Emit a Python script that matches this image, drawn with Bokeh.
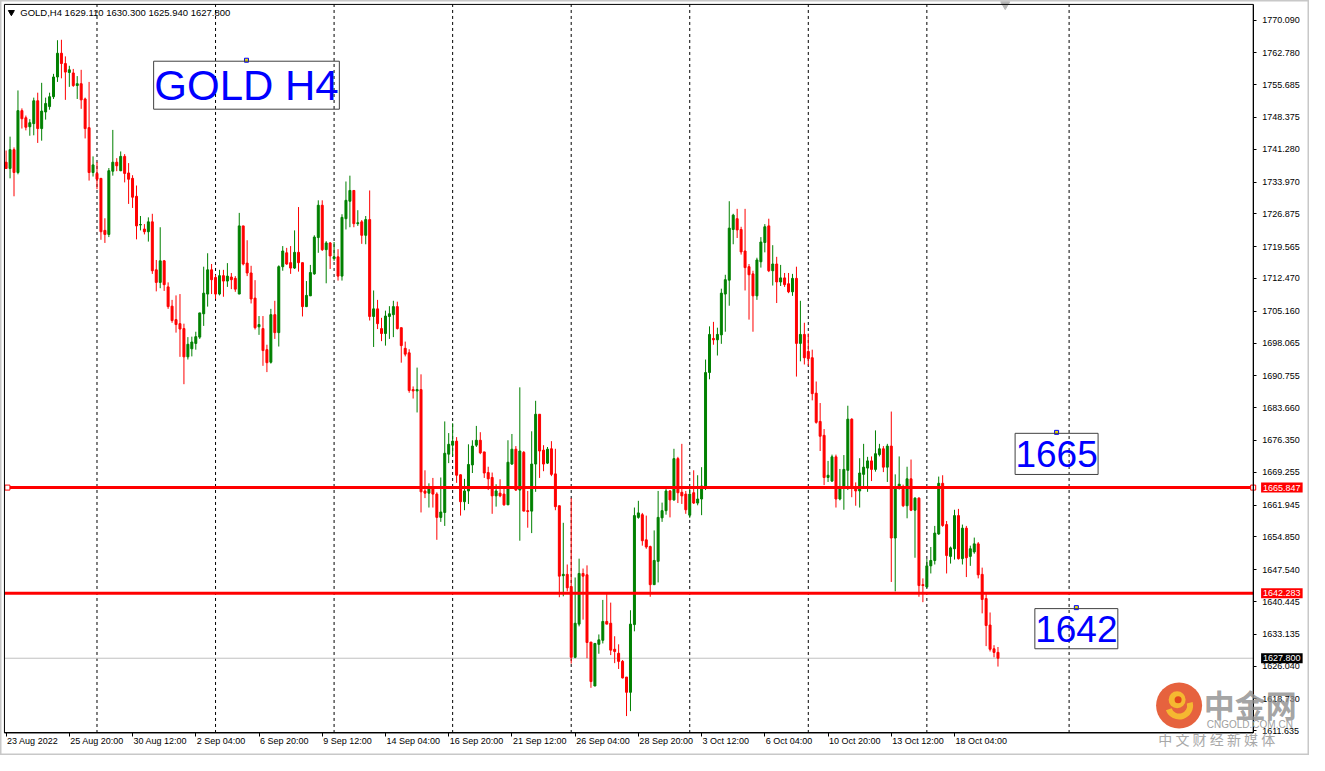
import numpy as np
from bokeh.plotting import figure
from bokeh.models import Range1d, FixedTicker, PrintfTickFormatter, Label, BoxAnnotation
from bokeh.embed import file_html
from bokeh.resources import INLINE

# ---------------- data (GOLD H4 candles) ----------------
open_ = [
    1738.4, 1737.0, 1741.2, 1736.1, 1749.9, 1748.3, 1746.3, 1747.0, 1752.1, 1745.9,
    1749.6, 1750.8, 1753.0, 1757.4, 1762.7, 1760.4, 1758.4, 1758.3, 1755.5, 1755.9,
    1752.5, 1746.1, 1736.1, 1735.9, 1734.8, 1723.2, 1722.3, 1736.4, 1738.4, 1736.5,
    1739.7, 1736.0, 1734.8, 1730.8, 1724.4, 1723.5, 1722.9, 1725.1, 1714.4, 1711.6,
    1716.4, 1710.6, 1706.3, 1703.3, 1702.4, 1701.3, 1695.0, 1696.8, 1698.0, 1699.4,
    1704.6, 1709.0, 1714.4, 1712.7, 1709.0, 1713.1, 1711.9, 1712.8, 1712.5, 1709.0,
    1724.2, 1715.9, 1713.7, 1708.1, 1701.7, 1701.3, 1696.6, 1693.8, 1704.4, 1700.4,
    1715.1, 1718.2, 1716.0, 1714.8, 1718.3, 1716.0, 1706.2, 1708.6, 1713.5, 1721.6,
    1728.8, 1718.9, 1720.4, 1716.9, 1717.3, 1713.0, 1725.8, 1729.7, 1732.1, 1724.7,
    1725.1, 1722.1, 1725.6, 1704.0, 1705.7, 1701.3, 1700.2, 1704.0, 1704.4, 1706.2,
    1701.5, 1696.9, 1695.9, 1687.7, 1687.4, 1687.7, 1665.1, 1664.6, 1665.8, 1664.4,
    1659.2, 1660.3, 1673.3, 1675.3, 1676.2, 1668.7, 1662.7, 1665.1, 1670.9, 1675.3,
    1676.4, 1673.8, 1669.2, 1668.1, 1664.0, 1664.6, 1664.4, 1662.0, 1671.1, 1674.4,
    1665.3, 1673.7, 1660.7, 1660.6, 1671.1, 1682.2, 1674.2, 1671.3, 1674.5, 1668.9,
    1661.8, 1646.2, 1646.5, 1643.8, 1628.0, 1635.4, 1646.7, 1646.4, 1631.4, 1621.6,
    1630.9, 1631.8, 1636.0, 1635.6, 1629.8, 1628.9, 1627.1, 1623.6, 1620.2, 1635.3,
    1659.2, 1659.8, 1654.2, 1652.7, 1644.2, 1649.4, 1659.1, 1660.7, 1665.1, 1663.1,
    1672.3, 1664.8, 1664.4, 1659.7, 1664.7, 1662.4, 1663.3, 1665.7, 1691.5, 1699.1,
    1698.8, 1699.9, 1709.0, 1712.1, 1723.4, 1725.8, 1723.4, 1718.6, 1715.1, 1713.5,
    1708.6, 1716.2, 1720.5, 1724.2, 1714.2, 1715.7, 1711.7, 1712.6, 1711.3, 1709.5,
    1712.5, 1698.0, 1700.0, 1696.2, 1694.8, 1686.9, 1680.6, 1677.5, 1668.1, 1667.3,
    1672.7, 1663.3, 1665.9, 1669.7, 1681.1, 1666.0, 1665.1, 1668.8, 1670.2, 1671.8,
    1669.9, 1673.2, 1674.5, 1670.4, 1675.1, 1654.6, 1665.8, 1665.5, 1661.8, 1667.8,
    1660.8, 1663.5, 1644.2, 1643.7, 1648.4, 1649.6, 1655.5, 1666.8, 1657.6, 1650.5,
    1652.2, 1659.6, 1650.0, 1656.8, 1650.5, 1651.5, 1653.3, 1646.5, 1641.1, 1635.2,
    1629.9, 1629.11,
]
high = [
    1741.0, 1744.1, 1741.7, 1754.4, 1750.4, 1748.8, 1748.0, 1752.8, 1753.9, 1756.1,
    1752.8, 1753.9, 1758.1, 1765.6, 1765.7, 1762.0, 1759.9, 1759.2, 1757.6, 1759.0,
    1752.8, 1756.3, 1739.7, 1738.4, 1734.8, 1725.9, 1737.1, 1745.6, 1739.3, 1740.8,
    1740.2, 1738.2, 1735.5, 1733.2, 1726.4, 1724.6, 1726.1, 1726.9, 1716.6, 1723.9,
    1716.6, 1711.6, 1707.7, 1708.7, 1709.0, 1702.4, 1699.4, 1699.5, 1700.6, 1704.8,
    1715.1, 1718.1, 1715.7, 1713.3, 1714.4, 1714.4, 1715.9, 1713.7, 1713.0, 1727.1,
    1724.2, 1721.0, 1715.3, 1712.1, 1704.1, 1704.1, 1697.7, 1705.7, 1707.5, 1715.4,
    1719.7, 1719.3, 1719.7, 1723.2, 1728.4, 1716.0, 1711.9, 1715.5, 1722.1, 1729.9,
    1729.9, 1720.8, 1720.6, 1720.6, 1719.0, 1726.8, 1734.1, 1735.4, 1732.1, 1727.7,
    1725.5, 1726.4, 1732.1, 1709.8, 1707.7, 1703.7, 1705.3, 1706.3, 1707.5, 1707.3,
    1701.5, 1698.4, 1696.7, 1688.4, 1692.6, 1691.1, 1669.7, 1666.8, 1668.0, 1664.8,
    1668.1, 1680.6, 1678.0, 1680.2, 1677.1, 1668.8, 1667.8, 1675.5, 1676.4, 1679.6,
    1678.2, 1673.8, 1670.5, 1669.2, 1666.6, 1667.7, 1665.7, 1676.4, 1677.8, 1675.1,
    1688.2, 1674.0, 1665.1, 1678.4, 1685.2, 1682.2, 1675.3, 1674.9, 1676.2, 1674.5,
    1661.8, 1658.0, 1648.7, 1663.5, 1645.8, 1650.0, 1647.8, 1648.5, 1631.4, 1631.2,
    1633.1, 1640.8, 1642.1, 1640.2, 1632.7, 1630.9, 1627.4, 1623.6, 1638.5, 1661.4,
    1662.9, 1660.2, 1659.6, 1652.9, 1656.3, 1665.1, 1662.5, 1665.7, 1665.3, 1674.5,
    1672.7, 1675.6, 1665.1, 1666.0, 1669.7, 1668.6, 1670.4, 1694.4, 1701.8, 1702.8,
    1701.5, 1710.2, 1713.3, 1729.7, 1726.9, 1728.0, 1724.0, 1728.0, 1715.7, 1714.2,
    1717.1, 1721.7, 1724.6, 1725.8, 1719.9, 1717.3, 1715.5, 1713.7, 1713.7, 1713.5,
    1715.1, 1707.5, 1702.6, 1700.2, 1696.6, 1689.5, 1684.7, 1678.9, 1671.8, 1673.2,
    1673.2, 1670.0, 1673.1, 1684.1, 1681.3, 1667.0, 1672.4, 1675.6, 1672.7, 1672.8,
    1678.6, 1675.6, 1675.1, 1675.6, 1682.8, 1668.8, 1672.8, 1666.5, 1670.5, 1672.1,
    1663.7, 1663.7, 1645.6, 1649.9, 1652.6, 1657.3, 1668.3, 1668.6, 1658.4, 1652.7,
    1660.9, 1661.1, 1657.6, 1657.3, 1652.9, 1654.7, 1653.7, 1648.0, 1642.1, 1638.0,
    1630.7, 1630.30,
]
low = [
    1736.9, 1734.8, 1730.8, 1735.7, 1745.9, 1745.5, 1744.3, 1744.4, 1742.7, 1743.2,
    1747.9, 1750.1, 1752.5, 1756.3, 1757.1, 1752.3, 1755.2, 1755.2, 1752.5, 1750.3,
    1743.7, 1734.3, 1735.2, 1732.4, 1721.1, 1720.4, 1721.7, 1735.4, 1736.4, 1736.4,
    1733.9, 1729.1, 1728.2, 1721.2, 1723.2, 1722.3, 1720.7, 1713.5, 1709.6, 1710.3,
    1709.7, 1705.7, 1702.6, 1700.4, 1695.0, 1688.9, 1694.4, 1695.1, 1696.6, 1699.0,
    1701.9, 1706.2, 1709.0, 1707.9, 1708.7, 1708.4, 1710.6, 1710.1, 1709.5, 1709.0,
    1715.4, 1713.0, 1706.9, 1701.1, 1699.9, 1693.0, 1691.6, 1693.5, 1699.0, 1697.3,
    1714.2, 1715.5, 1713.5, 1714.6, 1714.0, 1704.0, 1706.1, 1708.6, 1713.3, 1718.2,
    1718.6, 1711.4, 1714.6, 1716.4, 1712.0, 1712.0, 1723.4, 1723.9, 1723.9, 1724.2,
    1720.2, 1720.1, 1703.1, 1697.2, 1701.2, 1698.5, 1697.5, 1699.0, 1699.4, 1701.1,
    1693.7, 1695.1, 1687.0, 1685.7, 1682.6, 1660.3, 1663.5, 1661.4, 1661.4, 1654.2,
    1658.2, 1657.3, 1671.3, 1672.9, 1666.9, 1659.6, 1660.8, 1662.2, 1669.1, 1674.9,
    1673.3, 1668.0, 1665.3, 1660.0, 1661.6, 1663.7, 1661.8, 1662.0, 1670.9, 1665.1,
    1654.0, 1660.6, 1656.9, 1655.7, 1664.9, 1668.0, 1669.5, 1671.1, 1668.4, 1660.8,
    1641.4, 1641.6, 1642.7, 1626.6, 1627.8, 1634.9, 1636.4, 1627.8, 1621.2, 1621.6,
    1628.8, 1631.1, 1635.4, 1628.5, 1626.7, 1625.4, 1623.3, 1614.9, 1616.0, 1633.8,
    1658.9, 1652.9, 1652.2, 1641.5, 1644.2, 1644.7, 1658.2, 1659.8, 1659.2, 1662.9,
    1662.4, 1662.2, 1660.0, 1659.1, 1662.2, 1661.9, 1659.7, 1665.3, 1690.0, 1697.7,
    1695.3, 1697.9, 1700.6, 1706.4, 1720.1, 1721.5, 1717.8, 1709.8, 1703.3, 1700.6,
    1707.7, 1714.9, 1718.3, 1713.9, 1710.9, 1707.0, 1710.8, 1710.6, 1709.2, 1708.6,
    1690.6, 1694.0, 1693.3, 1693.0, 1685.3, 1680.1, 1674.0, 1666.4, 1667.1, 1667.1,
    1661.4, 1663.0, 1660.9, 1665.3, 1663.7, 1661.8, 1661.4, 1665.9, 1664.9, 1667.3,
    1669.4, 1672.8, 1669.3, 1667.1, 1644.8, 1642.7, 1665.4, 1661.5, 1659.0, 1660.6,
    1650.2, 1641.5, 1640.3, 1643.5, 1646.7, 1648.7, 1655.3, 1657.1, 1646.7, 1648.9,
    1649.8, 1649.8, 1648.7, 1645.9, 1648.4, 1651.1, 1645.6, 1637.8, 1630.5, 1629.3,
    1628.0, 1625.94,
]
close = [
    1737.0, 1741.2, 1736.1, 1749.9, 1748.1, 1746.2, 1747.2, 1752.1, 1745.9, 1749.8,
    1751.5, 1753.0, 1757.4, 1762.7, 1760.4, 1758.5, 1759.0, 1755.5, 1755.9, 1752.3,
    1745.9, 1736.1, 1737.8, 1734.6, 1722.9, 1722.3, 1736.5, 1738.4, 1737.6, 1739.7,
    1735.9, 1734.6, 1730.6, 1724.2, 1724.5, 1722.9, 1725.1, 1714.2, 1711.6, 1716.4,
    1711.1, 1706.2, 1703.1, 1702.2, 1701.2, 1695.0, 1697.8, 1698.3, 1699.5, 1704.8,
    1709.2, 1714.4, 1712.2, 1709.0, 1713.1, 1711.9, 1713.0, 1712.2, 1710.1, 1724.2,
    1715.7, 1713.7, 1707.9, 1701.5, 1702.2, 1696.4, 1693.7, 1704.4, 1700.4, 1715.1,
    1718.6, 1715.7, 1714.8, 1718.3, 1716.0, 1706.2, 1708.7, 1713.8, 1721.7, 1728.8,
    1718.9, 1720.4, 1717.5, 1717.3, 1713.0, 1726.1, 1729.9, 1732.1, 1724.7, 1724.9,
    1722.1, 1725.6, 1704.0, 1705.7, 1702.4, 1700.2, 1704.1, 1704.6, 1706.2, 1701.3,
    1697.5, 1695.6, 1687.5, 1687.4, 1687.7, 1664.9, 1664.6, 1665.8, 1664.4, 1659.2,
    1660.4, 1673.5, 1675.5, 1676.2, 1668.6, 1662.7, 1665.1, 1671.0, 1675.1, 1676.4,
    1673.6, 1669.1, 1667.8, 1664.0, 1665.1, 1664.0, 1662.0, 1671.5, 1674.4, 1665.3,
    1674.0, 1660.6, 1660.5, 1671.1, 1682.2, 1674.0, 1671.1, 1674.4, 1668.8, 1661.6,
    1646.1, 1646.5, 1643.5, 1628.0, 1635.6, 1646.7, 1646.1, 1631.3, 1622.6, 1631.1,
    1631.9, 1636.0, 1635.4, 1629.6, 1629.3, 1627.1, 1623.4, 1620.2, 1635.4, 1659.6,
    1660.2, 1654.0, 1652.6, 1644.2, 1649.6, 1659.2, 1660.7, 1665.1, 1663.1, 1672.3,
    1664.7, 1664.0, 1660.9, 1664.4, 1662.4, 1663.3, 1666.2, 1691.5, 1700.0, 1698.8,
    1700.0, 1709.2, 1712.2, 1723.7, 1726.6, 1723.3, 1718.4, 1714.9, 1713.3, 1708.6,
    1716.6, 1720.6, 1724.0, 1714.2, 1715.7, 1711.7, 1712.6, 1711.1, 1709.5, 1712.5,
    1698.0, 1700.0, 1694.8, 1694.6, 1686.8, 1680.4, 1677.3, 1668.1, 1668.6, 1672.7,
    1663.3, 1666.0, 1669.9, 1681.1, 1665.9, 1665.1, 1669.1, 1670.4, 1671.8, 1669.9,
    1673.4, 1674.5, 1670.4, 1675.1, 1654.6, 1665.8, 1666.6, 1661.8, 1667.8, 1660.8,
    1663.5, 1644.0, 1644.0, 1648.4, 1649.6, 1655.7, 1666.8, 1657.4, 1650.7, 1652.4,
    1659.6, 1650.0, 1656.8, 1650.2, 1652.2, 1653.3, 1646.4, 1640.9, 1635.1, 1629.8,
    1629.1, 1627.80,
]
assert len(open_) == len(high) == len(low) == len(close) == 252

symbol = "GOLD,H4"
x_tick_bars = [0, 16, 32, 48, 64, 80, 96, 112, 128, 144, 160, 176, 192, 208, 224, 240]
x_tick_labels = ["23 Aug 2022", "25 Aug 20:00", "30 Aug 12:00", "2 Sep 04:00",
                 "6 Sep 20:00", "9 Sep 12:00", "14 Sep 04:00", "16 Sep 20:00",
                 "21 Sep 12:00", "26 Sep 04:00", "28 Sep 20:00", "3 Oct 12:00",
                 "6 Oct 04:00", "10 Oct 20:00", "13 Oct 12:00", "18 Oct 04:00"]
y_ticks = [1611.635, 1618.730, 1626.040, 1633.135, 1640.445, 1647.540, 1654.850,
           1661.945, 1669.255, 1676.350, 1683.660, 1690.755, 1698.065, 1705.160,
           1712.470, 1719.565, 1726.875, 1733.970, 1741.280, 1748.375, 1755.685,
           1762.780, 1770.090]
week_separators = [23, 53, 83, 113, 143, 173, 203, 233, 269]
level_prices = [1665.847, 1642.283]
note_texts = ["GOLD H4", "1665", "1642"]

# ---------------- layout helpers (reference-pixel -> data) ----------------
def bx(rx):
    return (rx - 5.67) / 4.0          # bar index at a horizontal pixel


def py(ry):
    return 1774.457 - 0.21835 * ry    # price at a vertical pixel


FIG_W, FIG_H = 1309, 755
X_LEFT, X_RIGHT = bx(4), bx(1268)
Y_BOTTOM, Y_TOP = py(748), py(4)

GREEN = "#008000"
RED = "#FF0000"
FONT = "Liberation Sans"

p = figure(width=FIG_W, height=FIG_H,
           x_range=Range1d(bx(0), bx(1325)), y_range=Range1d(py(771), py(0)),
           output_backend="svg", toolbar_location=None, y_axis_location="right",
           min_border=0, min_border_left=0, min_border_right=0,
           min_border_top=0, min_border_bottom=0,
           background_fill_color="white", border_fill_color="white",
           outline_line_color="#C8C8C8", outline_line_width=2)
p.grid.visible = False

# y axis (right, attached to chart's right edge)
p.yaxis.fixed_location = X_RIGHT
p.yaxis.bounds = (Y_BOTTOM, Y_TOP)
p.yaxis.ticker = FixedTicker(ticks=y_ticks)
p.yaxis.formatter = PrintfTickFormatter(format="%.3f")
p.yaxis.major_label_text_font = FONT
p.yaxis.major_label_text_font_size = "9px"
p.yaxis.major_label_text_color = "black"
p.yaxis.major_tick_out = 3
p.yaxis.major_tick_in = 0
p.yaxis.minor_tick_out = 0
p.yaxis.minor_tick_in = 0
p.yaxis.major_label_standoff = 6
p.yaxis.axis_line_color = "black"
p.yaxis.major_tick_line_color = "black"

# x axis (ticks at the chart's bottom edge; labels left-aligned below)
p.xaxis.fixed_location = Y_BOTTOM
p.xaxis.bounds = (X_LEFT, X_RIGHT)
p.xaxis.ticker = FixedTicker(ticks=x_tick_bars)
p.xaxis.major_label_overrides = {t: "" for t in x_tick_bars}
p.xaxis.major_tick_out = 4
p.xaxis.major_tick_in = 0
p.xaxis.minor_tick_out = 0
p.xaxis.minor_tick_in = 0
p.xaxis.axis_line_color = "black"
p.xaxis.major_tick_line_color = "black"
for t, lab in zip(x_tick_bars, x_tick_labels):
    p.add_layout(Label(x=t, y=py(751), text=lab, x_offset=1,
                       text_align="left", text_baseline="top",
                       text_font=FONT, text_font_size="9px", text_color="black"))

# chart frame
p.add_layout(BoxAnnotation(left=X_LEFT, right=X_RIGHT, bottom=Y_BOTTOM, top=Y_TOP,
                           fill_alpha=0, line_color="black", line_alpha=1, line_width=1))

# weekly separators and current price line (behind candles)
n_sep = len(week_separators)
p.segment(x0=week_separators, y0=[Y_BOTTOM] * n_sep, x1=week_separators, y1=[Y_TOP] * n_sep,
          line_color="black", line_width=1, line_dash="3 3")
p.segment(x0=[X_LEFT], y0=[close[-1]], x1=[X_RIGHT], y1=[close[-1]],
          line_color="#C0C0C0", line_width=1)

# candles
idx = np.arange(len(close))
o = np.array(open_)
c = np.array(close)
colors = [GREEN if cc >= oo else RED for oo, cc in zip(o, c)]
p.segment(x0=idx, y0=low, x1=idx, y1=high, line_color=colors, line_width=1)
p.vbar(x=idx, width=0.5, top=np.maximum(o, c), bottom=np.minimum(o, c),
       fill_color=colors, line_color=colors, line_width=1)

# horizontal levels
n_lv = len(level_prices)
p.segment(x0=[X_LEFT] * n_lv, y0=level_prices, x1=[X_RIGHT] * n_lv, y1=level_prices,
          line_color=RED, line_width=3)
p.scatter(x=[bx(7), X_RIGHT], y=[level_prices[0]] * 2,
          marker="square", size=5, fill_color="white", line_color=RED, line_width=1)

# price labels on the right axis
for lv in level_prices:
    p.add_layout(Label(x=bx(1276), y=lv, text=f"{lv:.3f}",
                       text_align="left", text_baseline="middle",
                       text_font=FONT, text_font_size="9px", text_color="white",
                       background_fill_color=RED, padding=2))
p.add_layout(Label(x=bx(1276), y=close[-1], text=f"{close[-1]:.3f}",
                   text_align="left", text_baseline="middle",
                   text_font=FONT, text_font_size="9px", text_color="white",
                   background_fill_color="black", padding=2))

# header
header = f"{symbol}  {open_[-1]:.3f} {high[-1]:.3f} {low[-1]:.3f} {close[-1]:.3f}"
p.scatter(x=[bx(11)], y=[py(12)], marker="inverted_triangle",
          size=6, fill_color="black", line_color="black")
p.add_layout(Label(x=bx(20), y=py(12), text=header,
                   text_align="left", text_baseline="middle",
                   text_font=FONT, text_font_size="9.5px", text_color="black"))
# chart shift marker
p.scatter(x=[bx(1017)], y=[py(4)], marker="inverted_triangle", size=9,
          fill_color="#B8B8B8", line_color="#B8B8B8")

# text notes: box outline + blue text centred in it
note_box = [(155, 343, 62, 111), (1027, 1111, 442, 484), (1047, 1131, 621, 662)]
note_size = ["42px", "37px", "37px"]
for t, (l, r, tp, bt), fs in zip(note_texts, note_box, note_size):
    p.add_layout(BoxAnnotation(left=bx(l), right=bx(r), top=py(tp), bottom=py(bt),
                               fill_alpha=0, line_color="#404040", line_alpha=1,
                               line_width=1))
    p.add_layout(Label(x=bx((l + r) / 2), y=py((tp + bt) / 2 + 0.5), text=t,
                       text_align="center", text_baseline="middle", text_font=FONT,
                       text_font_size=fs, text_color="#0000FF"))
    p.scatter(x=[bx((l + r) / 2)], y=[py(tp - 1)], marker="square", size=4,
              fill_color="#F0E000", line_color="#0000FF", line_width=1)

# watermark
wx, wy = bx(1193), py(720)
p.scatter(x=[wx], y=[wy], marker="circle", size=46, fill_color="#E2471C",
          line_color=None, fill_alpha=0.85)
p.annular_wedge(x=[wx], y=[wy], inner_radius=8, outer_radius=14,
                inner_radius_units="screen", outer_radius_units="screen",
                start_angle=np.deg2rad(-160), end_angle=np.deg2rad(15),
                fill_color="#F6C230", line_color=None, fill_alpha=0.9)
p.scatter(x=[bx(1191)], y=[py(714)], marker="circle", size=17,
          fill_color="#F6C230", line_color=None, fill_alpha=0.9)
p.scatter(x=[bx(1192)], y=[py(714)], marker="circle", size=7,
          fill_color="#E2471C", line_color=None)
p.add_layout(Label(x=bx(1218), y=py(718), text="中金网", text_align="left",
                   text_baseline="middle", text_font="Noto Sans CJK SC",
                   text_font_style="bold", text_font_size="31px",
                   text_color="#8C8C8C", text_alpha=0.8))
p.add_layout(Label(x=bx(1221), y=py(739.5), text="CNGOLD.COM.CN", text_align="left",
                   text_baseline="middle", text_font=FONT, text_font_size="10px",
                   text_color="#A0A0A0"))
p.add_layout(Label(x=bx(1172), y=py(754), text="中 文 财 经 新 媒 体", text_align="left",
                   text_baseline="middle", text_font="Noto Sans CJK SC",
                   text_font_size="14px", text_color="#A8A8A8"))

open("out.html", "w").write(file_html(p, INLINE))
